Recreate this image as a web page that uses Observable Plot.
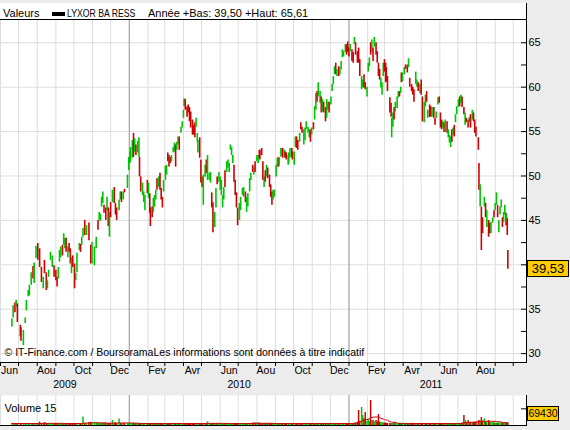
<!DOCTYPE html>
<html><head><meta charset="utf-8">
<script src="https://cdn.jsdelivr.net/npm/d3@7"></script>
<script src="https://cdn.jsdelivr.net/npm/@observablehq/plot@0.6"></script>
<style>
html,body{margin:0;padding:0;background:#ececec;}
#wrap{position:relative;width:570px;height:430px;background:#ececec;overflow:hidden;font-family:"Liberation Sans",Arial,sans-serif;color:#000;}
#hdr{position:absolute;left:0;top:3px;width:526px;height:16px;background:#fff;border-right:1px solid #000;}
#hdr span{position:absolute;top:4px;font-size:11px;line-height:12px;white-space:nowrap;transform-origin:0 50%;}
#sw{position:absolute;left:52px;top:9px;width:13px;height:4px;background:#000;}
#main{position:absolute;left:0;top:0;}
#vol{position:absolute;left:0;top:395px;}
.box{position:absolute;background:#ffcc00;border:1px solid #000;text-align:center;white-space:nowrap;}
</style></head><body>
<div id="wrap">
  <div id="hdr"><span style="left:3px">Valeurs</span><div id="sw"></div><span style="left:67px;transform:scaleX(0.79)">LYXOR BA RESS</span><span style="left:148px">Année +Bas: 39,50 +Haut: 65,61</span></div>
  <div id="main"></div>
  <div id="vol"></div>
  <div id="box1" class="box"></div>
  <div id="box2" class="box"></div>
</div>
<script>
// [date, bas, haut, sens (h = hausse, b = baisse), volume (milliers)]
const bars2009 = [
["2009-06-20",33.0,33.9,"h",12],["2009-06-22",34.0,35.4,"h",12],["2009-06-25",34.6,35.7,"b",12],["2009-06-27",35.2,36.0,"h",12],["2009-06-29",33.5,35.6,"b",12],
["2009-07-04",31.9,33.2,"b",12],["2009-07-05",31.4,32.9,"b",12],["2009-07-09",30.9,32.6,"h",12],["2009-07-12",33.4,34.0,"h",12],["2009-07-14",34.8,36.0,"h",12],
["2009-07-17",36.4,37.1,"h",12],["2009-07-19",36.5,37.7,"h",12],["2009-07-22",37.7,39.1,"h",12],["2009-07-25",38.4,39.8,"b",12],["2009-07-27",37.9,40.2,"h",12],
["2009-07-30",40.7,42.1,"h",12],["2009-08-02",40.5,42.4,"b",12],["2009-08-05",39.7,41.8,"b",20],["2009-08-08",38.0,39.7,"b",12],["2009-08-11",37.3,38.6,"h",12],
["2009-08-13",39.0,40.5,"b",18],["2009-08-16",37.1,39.1,"b",12],["2009-08-18",37.3,38.2,"h",12],["2009-08-20",38.6,39.4,"h",12],["2009-08-23",40.5,41.4,"h",12],
["2009-08-26",39.7,41.0,"h",12],["2009-08-29",38.6,39.9,"b",12],["2009-09-01",38.2,39.4,"b",12],["2009-09-03",37.5,38.6,"b",12],["2009-09-05",38.4,39.7,"h",12],
["2009-09-07",40.3,41.6,"h",12],["2009-09-09",40.8,42.0,"h",12],["2009-09-12",41.0,42.2,"b",12],["2009-09-14",42.2,43.5,"h",12],["2009-09-16",41.8,43.0,"h",12],
["2009-09-18",41.4,43.0,"b",12],["2009-09-21",40.8,42.0,"h",12],["2009-09-23",41.4,42.4,"b",12],["2009-09-25",40.1,41.8,"b",12],["2009-09-27",39.0,40.8,"h",12],
["2009-09-29",39.7,41.0,"b",12],["2009-10-02",37.3,40.1,"b",12],["2009-10-04",38.2,39.0,"h",12],["2009-10-06",39.1,41.3,"h",12],["2009-10-10",41.6,42.4,"h",12],
["2009-10-12",41.4,42.3,"b",12],["2009-10-14",42.2,43.1,"h",12],["2009-10-16",43.1,44.1,"h",51],["2009-10-19",43.3,45.0,"b",12],["2009-10-22",43.3,44.4,"h",12],
["2009-10-26",42.7,44.7,"b",18],["2009-10-29",40.1,42.2,"b",18],["2009-10-31",40.1,42.5,"h",18],["2009-11-04",39.9,42.0,"h",18],["2009-11-07",41.8,43.1,"h",18],
["2009-11-10",43.9,45.0,"b",12],["2009-11-12",45.0,45.9,"h",12],["2009-11-14",44.9,45.7,"h",12],["2009-11-16",46.5,47.6,"h",12],["2009-11-18",46.9,48.2,"h",12],
["2009-11-20",45.8,46.7,"b",12],["2009-11-23",45.0,46.4,"b",12],["2009-11-25",46.1,47.6,"h",12],["2009-11-27",44.3,46.4,"b",12],["2009-11-29",43.1,45.9,"h",12],
["2009-12-01",45.3,47.0,"b",12],["2009-12-04",47.0,48.4,"h",30],["2009-12-07",46.9,48.7,"b",12],["2009-12-09",45.6,46.9,"b",18],["2009-12-11",45.0,46.4,"b",12],
["2009-12-15",46.1,47.3,"h",39],["2009-12-17",47.3,48.2,"h",12],["2009-12-19",47.0,48.2,"b",12],["2009-12-22",47.3,48.2,"h",12],["2009-12-24",48.1,48.5,"b",12],
["2009-12-29",48.6,50.1,"h",12],["2009-12-31",50.6,52.1,"h",12]
];
const bars2010 = [
["2010-01-02",51.4,52.7,"h",12],["2010-01-03",51.6,53.2,"h",12],["2010-01-06",52.0,54.0,"h",12],["2010-01-08",52.1,54.8,"b",12],["2010-01-10",52.7,54.2,"h",12],
["2010-01-12",52.3,53.5,"b",12],["2010-01-15",52.6,53.9,"h",12],["2010-01-17",52.1,54.3,"h",12],["2010-01-18",49.9,52.1,"b",12],["2010-01-20",48.2,49.9,"b",12],
["2010-01-23",47.8,49.2,"h",12],["2010-01-25",47.0,48.2,"h",12],["2010-01-27",46.1,47.8,"h",12],["2010-01-31",48.0,49.5,"b",12],["2010-02-02",47.5,49.2,"h",12],
["2010-02-04",45.8,48.0,"b",12],["2010-02-05",44.3,46.4,"b",12],["2010-02-08",45.3,46.5,"b",12],["2010-02-10",45.9,47.5,"h",12],["2010-02-12",46.5,47.8,"h",12],
["2010-02-14",47.3,48.4,"h",12],["2010-02-16",48.4,49.7,"b",12],["2010-02-19",48.7,49.9,"h",12],["2010-02-21",48.4,50.3,"b",12],["2010-02-23",47.3,48.6,"b",12],
["2010-02-25",46.4,47.6,"b",12],["2010-02-27",48.2,49.5,"h",12],["2010-03-02",49.5,51.1,"h",12],["2010-03-04",50.1,51.2,"h",12],["2010-03-06",51.6,52.6,"b",12],
["2010-03-08",51.0,52.3,"b",12],["2010-03-10",51.4,52.1,"b",12],["2010-03-12",51.6,52.3,"h",12],["2010-03-15",52.6,53.2,"h",12],["2010-03-17",52.7,53.7,"h",12],
["2010-03-19",51.0,53.5,"b",12],["2010-03-21",52.9,53.8,"h",12],["2010-03-23",53.5,54.4,"h",12],["2010-03-25",52.9,54.4,"b",12],["2010-03-28",54.8,55.5,"h",12],
["2010-03-30",55.4,56.1,"h",12],["2010-04-01",56.5,57.4,"h",12],["2010-04-02",57.8,58.7,"h",12],["2010-04-04",57.4,58.6,"b",12],["2010-04-07",56.6,57.8,"b",12],
["2010-04-09",57.1,58.0,"b",12],["2010-04-11",56.1,57.7,"b",12],["2010-04-13",55.4,57.2,"b",12],["2010-04-16",54.6,56.3,"b",12],["2010-04-18",54.6,55.7,"b",12],
["2010-04-20",54.3,56.0,"b",12],["2010-04-22",55.5,56.5,"h",12],["2010-04-24",53.8,54.8,"h",12],["2010-04-25",52.6,54.0,"h",12],["2010-04-28",52.0,54.3,"b",12],
["2010-04-30",49.2,51.8,"b",12],["2010-05-02",48.7,49.9,"b",12],["2010-05-04",46.7,50.1,"h",12],["2010-05-07",49.9,51.2,"h",12],["2010-05-09",50.3,51.8,"b",12],
["2010-05-11",49.5,52.3,"h",22],["2010-05-14",49.5,50.3,"h",12],["2010-05-16",49.2,50.4,"h",12],["2010-05-18",46.4,48.1,"b",12],["2010-05-20",43.6,47.0,"b",12],
["2010-05-23",44.2,45.9,"h",12],["2010-05-25",46.4,48.6,"h",12],["2010-05-27",49.0,49.9,"b",12],["2010-05-30",49.3,50.4,"h",12],["2010-06-01",48.4,49.9,"h",12],
["2010-06-03",47.8,49.5,"h",12],["2010-06-05",46.4,47.8,"h",12],["2010-06-07",47.3,48.7,"h",12],["2010-06-09",48.7,50.6,"b",12],["2010-06-12",50.4,51.6,"h",12],
["2010-06-14",50.9,51.8,"h",12],["2010-06-16",50.4,51.4,"h",12],["2010-06-18",52.9,53.5,"h",12],["2010-06-20",52.3,53.2,"h",12],["2010-06-22",51.4,52.3,"h",12],
["2010-06-24",49.3,51.2,"b",12],["2010-06-26",47.8,49.5,"b",12],["2010-06-28",46.4,48.1,"b",12],["2010-06-30",44.4,46.4,"b",12],["2010-07-03",45.0,46.9,"h",12],
["2010-07-05",46.1,47.6,"h",12],["2010-07-08",47.8,48.6,"h",12],["2010-07-10",47.6,48.7,"h",12],["2010-07-13",47.0,48.2,"b",12],["2010-07-15",45.9,47.6,"h",12],
["2010-07-17",46.5,48.0,"h",12],["2010-07-20",48.2,49.7,"h",12],["2010-07-22",49.5,50.3,"h",12],["2010-07-25",50.4,51.2,"b",15],["2010-07-27",50.1,51.0,"h",15],
["2010-07-29",50.4,51.6,"b",15],["2010-08-01",51.6,52.3,"h",15],["2010-08-03",51.4,52.3,"h",15],["2010-08-05",52.0,52.9,"b",15],["2010-08-06",51.8,52.9,"b",12],
["2010-08-09",52.3,53.1,"b",12],["2010-08-11",49.5,51.6,"b",12],["2010-08-13",48.7,49.9,"h",12],["2010-08-15",49.3,50.6,"b",12],["2010-08-17",49.9,51.2,"h",12],
["2010-08-19",49.7,50.9,"b",12],["2010-08-22",48.7,50.1,"b",12],["2010-08-24",47.6,49.0,"b",12],["2010-08-26",46.7,48.2,"b",12],["2010-08-28",47.3,48.4,"h",12],
["2010-08-30",47.6,48.4,"h",12],["2010-09-02",49.9,51.2,"h",12],["2010-09-04",51.0,52.0,"h",12],["2010-09-06",51.0,52.1,"b",12],["2010-09-07",51.2,52.0,"h",12],
["2010-09-10",52.1,53.1,"h",12],["2010-09-11",52.3,53.1,"h",12],["2010-09-13",52.0,53.1,"b",12],["2010-09-16",52.1,52.9,"h",12],["2010-09-17",52.0,52.7,"b",12],
["2010-09-19",51.8,52.6,"b",12],["2010-09-22",51.2,52.3,"h",12],["2010-09-23",51.4,52.6,"h",12],["2010-09-25",52.0,53.1,"h",12],["2010-09-28",52.1,53.1,"b",12],
["2010-09-29",51.8,52.7,"b",12],["2010-10-02",51.2,52.7,"h",12],["2010-10-04",53.2,54.4,"h",12],["2010-10-06",53.1,54.4,"b",12],["2010-10-08",52.9,54.0,"b",12],
["2010-10-11",53.8,54.8,"h",12],["2010-10-13",55.2,56.0,"b",12],["2010-10-15",54.8,55.5,"b",12],["2010-10-18",53.5,55.2,"h",12],["2010-10-20",54.0,55.4,"h",12],
["2010-10-22",55.2,56.1,"h",12],["2010-10-25",54.8,55.5,"h",12],["2010-10-27",54.3,55.2,"h",12],["2010-10-29",53.8,55.2,"b",12],["2010-10-31",54.6,55.4,"h",12],
["2010-11-03",55.2,56.0,"b",12],["2010-11-05",56.3,57.8,"h",12],["2010-11-07",57.4,59.3,"h",12],["2010-11-09",58.3,59.5,"b",12],["2010-11-11",58.9,60.5,"h",12],
["2010-11-14",58.2,59.5,"h",12],["2010-11-16",57.1,58.9,"b",12],["2010-11-18",57.2,58.6,"h",12],["2010-11-20",57.1,58.3,"b",12],["2010-11-23",56.1,57.7,"b",12],
["2010-11-25",56.5,58.6,"h",12],["2010-11-27",57.4,58.3,"h",12],["2010-11-29",57.1,58.3,"b",12],["2010-12-02",58.0,58.9,"h",12],["2010-12-04",59.5,60.3,"h",12],
["2010-12-06",60.3,61.2,"h",12],["2010-12-08",61.4,62.3,"h",12],["2010-12-10",61.4,62.7,"b",12],["2010-12-12",61.2,62.0,"h",12],["2010-12-15",61.2,62.3,"b",12],
["2010-12-17",61.4,62.2,"h",12],["2010-12-19",62.0,62.9,"h",12],["2010-12-21",63.3,64.2,"h",12],["2010-12-23",63.4,64.0,"h",12],["2010-12-26",63.9,64.8,"h",12],
["2010-12-28",63.6,64.8,"b",12],["2010-12-30",63.9,65.1,"b",12]
];
const bars2011 = [
["2011-01-01",63.4,64.4,"b",12],["2011-01-03",64.0,64.8,"h",12],["2011-01-06",62.9,64.2,"b",12],["2011-01-08",62.7,63.9,"b",12],["2011-01-10",64.8,65.6,"h",15],
["2011-01-12",63.6,65.0,"b",15],["2011-01-15",62.7,64.0,"b",20],["2011-01-17",62.7,64.4,"b",90],["2011-01-19",61.2,63.1,"b",25],["2011-01-22",59.7,61.2,"h",108],
["2011-01-24",59.9,60.8,"h",60],["2011-01-26",59.9,61.4,"b",40],["2011-01-28",59.7,60.5,"b",78],["2011-01-31",58.9,60.0,"h",25],["2011-02-02",61.7,62.7,"h",37],
["2011-02-04",62.3,63.3,"h",25],["2011-02-06",63.6,65.0,"b",150],["2011-02-08",63.9,65.3,"h",28],["2011-02-10",62.9,64.4,"b",30],["2011-02-12",64.5,65.61,"h",22],
["2011-02-15",63.6,65.0,"b",30],["2011-02-17",62.7,64.0,"b",22],["2011-02-19",61.2,62.7,"b",66],["2011-02-21",60.8,62.0,"b",20],["2011-02-23",59.9,61.0,"h",20],
["2011-02-25",59.1,60.5,"h",18],["2011-02-27",61.2,62.7,"h",15],["2011-03-01",61.7,63.1,"b",15],["2011-03-03",60.5,62.7,"b",15],["2011-03-04",60.6,62.2,"b",12],
["2011-03-06",59.5,61.2,"b",12],["2011-03-10",57.1,58.8,"b",12],["2011-03-12",56.6,58.2,"b",12],["2011-03-13",54.3,56.5,"h",12],["2011-03-15",55.5,57.1,"h",12],
["2011-03-17",56.3,57.7,"b",12],["2011-03-19",57.2,58.3,"h",20],["2011-03-22",57.6,58.9,"h",12],["2011-03-24",58.8,59.5,"h",12],["2011-03-26",58.9,59.5,"b",12],
["2011-03-28",59.3,60.0,"h",12],["2011-03-29",60.5,61.6,"b",12],["2011-03-31",60.6,61.6,"h",12],["2011-04-03",61.4,62.2,"h",12],["2011-04-05",62.0,62.5,"b",12],
["2011-04-08",61.6,62.5,"b",12],["2011-04-10",62.2,63.2,"h",12],["2011-04-12",60.0,61.0,"b",12],["2011-04-15",59.5,60.3,"b",12],["2011-04-17",59.1,60.0,"b",12],
["2011-04-19",58.3,59.7,"b",12],["2011-04-22",60.3,61.7,"h",12],["2011-04-24",60.0,60.8,"h",12],["2011-04-26",59.5,60.5,"b",12],["2011-04-29",59.3,60.3,"h",12],
["2011-05-01",59.1,60.8,"b",12],["2011-05-03",56.1,58.9,"b",12],["2011-05-06",56.0,58.3,"h",12],["2011-05-08",57.8,59.1,"h",12],["2011-05-10",58.3,59.5,"b",12],
["2011-05-12",56.5,57.4,"h",12],["2011-05-15",56.6,58.0,"b",12],["2011-05-17",56.6,57.8,"b",12],["2011-05-19",56.6,57.7,"h",12],["2011-05-22",56.5,57.7,"b",12],
["2011-05-24",55.7,56.5,"b",12],["2011-05-26",56.5,57.2,"h",12],["2011-05-29",58.0,58.8,"h",12],["2011-05-31",58.2,58.9,"b",12],["2011-06-02",55.4,57.1,"b",12],
["2011-06-04",55.2,56.3,"b",12],["2011-06-06",55.4,56.1,"h",12],["2011-06-08",54.9,56.0,"b",12],["2011-06-10",54.9,56.3,"h",12],["2011-06-13",54.8,56.1,"b",12],
["2011-06-15",54.3,55.2,"h",12],["2011-06-17",53.7,54.6,"h",12],["2011-06-19",53.2,54.4,"h",12],["2011-06-21",53.8,55.2,"b",12],["2011-06-23",54.6,55.4,"h",12],
["2011-06-25",54.4,55.7,"b",12],["2011-06-27",56.0,56.9,"h",12],["2011-06-29",56.9,57.8,"h",12],["2011-07-02",57.7,58.6,"h",12],["2011-07-04",57.8,58.9,"b",12],
["2011-07-06",58.2,59.1,"h",12],["2011-07-08",57.7,58.9,"b",15],["2011-07-11",56.9,57.7,"b",60],["2011-07-13",55.7,57.1,"h",30],["2011-07-15",56.0,56.5,"b",20],
["2011-07-18",55.4,56.3,"b",30],["2011-07-20",56.0,56.6,"h",18],["2011-07-22",55.4,56.9,"b",18],["2011-07-25",56.3,57.4,"h",18],["2011-07-27",56.1,57.1,"b",18],
["2011-07-29",54.8,56.3,"b",20],["2011-07-31",54.4,55.5,"b",20],["2011-08-04",52.9,54.3,"b",25],["2011-08-05",48.4,51.4,"b",30],["2011-08-07",46.5,49.0,"h",25],
["2011-08-09",41.6,46.5,"b",48],["2011-08-11",43.5,45.3,"b",25],["2011-08-14",46.5,47.6,"h",40],["2011-08-16",45.3,46.9,"b",22],["2011-08-18",44.2,46.1,"h",22],
["2011-08-21",43.1,45.0,"b",30],["2011-08-23",43.5,44.7,"b",18],["2011-08-25",43.5,44.8,"h",18],["2011-08-28",44.7,45.3,"h",20],["2011-08-30",45.3,46.1,"b",15],
["2011-09-01",46.1,46.9,"h",15],["2011-09-03",46.7,48.1,"h",15],["2011-09-05",45.3,46.7,"b",15],["2011-09-07",43.6,45.0,"h",15],["2011-09-09",45.6,46.5,"h",15],
["2011-09-11",46.4,47.3,"h",15],["2011-09-13",44.2,45.3,"b",15],["2011-09-15",44.8,45.9,"h",15],["2011-09-17",45.6,46.7,"h",15],["2011-09-19",44.4,45.8,"b",15],
["2011-09-20",44.8,45.6,"h",15],["2011-09-21",43.3,45.2,"b",15],["2011-09-22",39.5,41.6,"b",15]
];
const dernierCours = 39.53;
const repereVolume = 69430;
const moisFr = ["Jan","Fev","Mar","Avr","Mai","Jun","Jul","Aou","Sep","Oct","Nov","Dec"];
const annees = [2009, 2010, 2011];
const prixGrille = [30, 35, 40, 45, 50, 55, 60, 65];
const prixLabels = [30, 35, 45, 50, 55, 60, 65]; // 40 est masqué par l'étiquette du dernier cours
const prixTicks = [30, 32.5, 35, 37.5, 40, 42.5, 45, 47.5, 50, 52.5, 55, 57.5, 60, 62.5, 65];
const volTicks = [100000];
const caption = "© IT-Finance.com / BoursoramaLes informations sont données à titre indicatif";

const GREEN = "#00c400", RED = "#d00000", GRID = "#dedede", YEAR = "#9c9c9c";
const FONT = "'Liberation Sans', Arial, sans-serif";

const data = [...bars2009, ...bars2010, ...bars2011].map(([d, lo, hi, s, v]) => ({
  date: new Date(d + "T00:00:00Z"), lo, hi, col: s === "h" ? GREEN : RED, vol: v * 1000
}));

const xDomain = [new Date("2009-06-01T00:00:00Z"), new Date("2011-10-23T00:00:00Z")];
const lastTick = new Date("2011-10-01T00:00:00Z");
const monthStarts = d3.utcMonths(xDomain[0], xDomain[1]);
const yearStarts = d3.utcYears(xDomain[0], xDomain[1]);
const labelMonths = d3.utcMonths(xDomain[0], lastTick, 2).map(m => ({m, x: d3.utcDay.offset(m, 15)}));
const yearLabels = annees.map(y => {
  const a = new Date(Math.max(Date.UTC(y, 0, 1), +xDomain[0]));
  const b = new Date(Math.min(Date.UTC(y + 1, 0, 1), +lastTick));
  return {y, x: new Date((+a + +b) / 2)};
});

const main = Plot.plot({
  width: 570, height: 395,
  marginTop: 19, marginBottom: 33, marginLeft: 0, marginRight: 44,
  style: {background: "transparent", fontFamily: FONT, fontSize: "10.5px", color: "#000", overflow: "visible"},
  x: {type: "utc", domain: xDomain},
  y: {domain: [29.0, 67.62]},
  marks: [
    Plot.frame({fill: "#fff", stroke: null}),
    Plot.ruleX(monthStarts, {x: d => d, stroke: GRID}),
    Plot.ruleY(prixGrille, {y: d => d, stroke: GRID}),
    Plot.ruleX(yearStarts, {x: d => d, stroke: YEAR}),
    Plot.ruleX(data, {x: "date", y1: "lo", y2: "hi", stroke: "col", strokeWidth: 1.6}),
    Plot.text([caption], {text: d => d, frameAnchor: "bottom-left", textAnchor: "start", dx: 4, dy: -7, fontSize: 10.5}),
    Plot.tickY(prixTicks, {y: d => d, insetLeft: 521, stroke: "#000"}),
    Plot.axisY(prixLabels, {anchor: "right", tickSize: 0, tickPadding: 2, label: null, fontSize: 11}),
    Plot.axisX(monthStarts, {anchor: "bottom", tickSize: 4, tickFormat: () => "", label: null}),
    Plot.text(labelMonths, {x: "x", text: d => moisFr[d.m.getUTCMonth()], frameAnchor: "bottom", dy: 11, fontSize: 10.5}),
    Plot.text(yearLabels, {x: "x", text: d => String(d.y), frameAnchor: "bottom", dy: 25, fontSize: 10.5}),
    Plot.frame({anchor: "top"}),
    Plot.frame({anchor: "right"}),
    Plot.frame({anchor: "bottom"})
  ]
});
document.getElementById("main").appendChild(main);

const vol = Plot.plot({
  width: 570, height: 35,
  marginTop: 0, marginBottom: 5, marginLeft: 0, marginRight: 44,
  style: {background: "transparent", fontFamily: FONT, fontSize: "11px", color: "#000", overflow: "visible"},
  x: {type: "utc", domain: xDomain, axis: null},
  y: {domain: [0, 180000], axis: null},
  marks: [
    Plot.frame({fill: "#fff", stroke: null}),
    Plot.ruleX(monthStarts, {x: d => d, stroke: GRID}),
    Plot.ruleX(yearStarts, {x: d => d, stroke: YEAR}),
    Plot.ruleX(data, {x: "date", y1: 0, y2: "vol", stroke: "col", strokeWidth: 1.45}),
    Plot.lineY(data, Plot.windowY({k: 15, anchor: "end", reduce: "mean"}, {x: "date", y: "vol", stroke: RED, strokeWidth: 1})),
    Plot.text(["Volume 15"], {text: d => d, frameAnchor: "top-left", textAnchor: "start", dx: 4, dy: 9, fontSize: 11}),
    Plot.tickY(volTicks, {y: d => d, insetLeft: 521, stroke: "#000"}),
    Plot.frame({anchor: "right"}),
    Plot.frame({anchor: "bottom"})
  ]
});
document.getElementById("vol").appendChild(vol);

const fmt = v => String(v).replace(".", ",");
const b1 = document.getElementById("box1");
b1.textContent = fmt(dernierCours.toFixed(2));
b1.style.cssText += "left:527px;width:40px;height:15px;line-height:15px;font-size:13px;";
b1.style.top = (main.scale("y").apply(dernierCours) - 8) + "px";
const b2 = document.getElementById("box2");
b2.textContent = String(repereVolume);
b2.style.cssText += "left:527px;width:30px;height:13px;line-height:13px;font-size:10.5px;";
b2.style.top = (395 + vol.scale("y").apply(repereVolume) - 7) + "px";
</script>
</body></html>
